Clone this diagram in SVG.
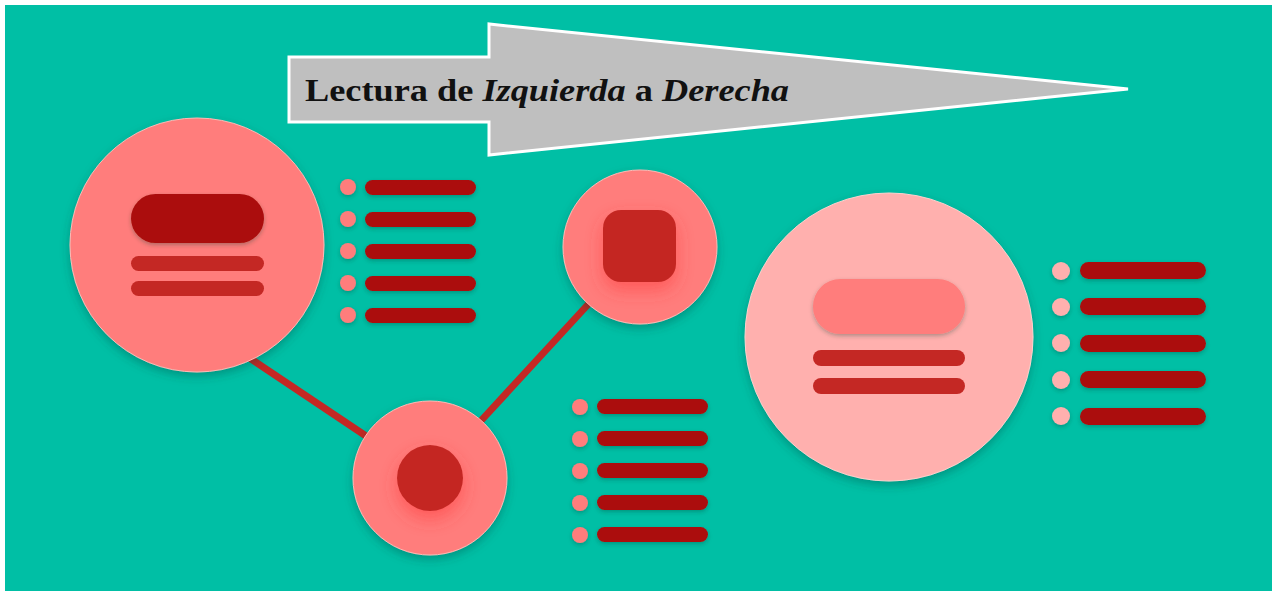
<svg xmlns="http://www.w3.org/2000/svg" width="1272" height="591" viewBox="0 0 1272 591">
<defs>
<filter id="sh" x="-30%" y="-30%" width="160%" height="160%">
<feDropShadow dx="0" dy="4" stdDeviation="5" flood-color="#00403a" flood-opacity="0.35"/>
</filter>
<filter id="sh2" x="-30%" y="-30%" width="160%" height="160%">
<feDropShadow dx="0" dy="2" stdDeviation="2" flood-color="#003a33" flood-opacity="0.3"/>
</filter>
<filter id="glow" x="-50%" y="-50%" width="200%" height="200%">
<feDropShadow dx="0" dy="8" stdDeviation="9" flood-color="#ff3b3b" flood-opacity="0.55"/>
</filter>
</defs>
<style>
.bg{fill:#00bfa5}
.node{fill:#ff7d7b;stroke:#ffb8b4;stroke-width:1}
.nodeL{fill:#ffb0ae;stroke:#ffd0cc;stroke-width:1}
.dark{fill:#ab110d}
.mid{fill:#c42824}
.dot{fill:#ff7d7b}
.dotL{fill:#ffb0ae}
.bar{fill:#ab110d}
.conn{stroke:#c42824;stroke-width:7;fill:none}
.arrow{fill:#bfbfbf;stroke:#ffffff;stroke-width:3}
.lbl{font-family:"Liberation Serif","Times New Roman",serif;font-size:32px;font-weight:bold;fill:#111111}
</style>
<rect x="0" y="0" width="1272" height="591" fill="#ffffff"/>
<rect class="bg" x="5" y="5" width="1267" height="586"/>

<g id="connectors">
<line class="conn" x1="245" y1="355" x2="372" y2="440"/>
<line class="conn" x1="478" y1="424" x2="594" y2="298"/>
</g>

<g id="title-arrow">
<polygon class="arrow" points="289,57 489,57 489,24 1128,89 489,155 489,122 289,122"/>
<text class="lbl" x="305" y="101" textLength="484" lengthAdjust="spacingAndGlyphs">Lectura de <tspan font-style="italic">Izquierda</tspan> a <tspan font-style="italic">Derecha</tspan></text>
</g>

<g id="node1">
<circle class="node" cx="197" cy="245" r="127" filter="url(#sh)"/>
<rect class="dark" x="131" y="194" width="133" height="49" rx="24.5" filter="url(#sh2)"/>
<rect class="mid" x="131" y="256" width="133" height="15" rx="7.5"/>
<rect class="mid" x="131" y="281" width="133" height="15" rx="7.5"/>
</g>

<g id="list1" filter="url(#sh2)">
<circle class="dot" cx="348" cy="187" r="8"/>
<circle class="dot" cx="348" cy="219" r="8"/>
<circle class="dot" cx="348" cy="251" r="8"/>
<circle class="dot" cx="348" cy="283" r="8"/>
<circle class="dot" cx="348" cy="315" r="8"/>
<rect class="bar" x="365" y="180" width="111" height="15" rx="7.5"/>
<rect class="bar" x="365" y="212" width="111" height="15" rx="7.5"/>
<rect class="bar" x="365" y="244" width="111" height="15" rx="7.5"/>
<rect class="bar" x="365" y="276" width="111" height="15" rx="7.5"/>
<rect class="bar" x="365" y="308" width="111" height="15" rx="7.5"/>
</g>

<g id="node2">
<circle class="node" cx="640" cy="247" r="77" filter="url(#sh)"/>
<rect class="mid" x="603" y="210" width="73" height="72" rx="18" filter="url(#glow)"/>
</g>

<g id="node3">
<circle class="node" cx="430" cy="478" r="77" filter="url(#sh)"/>
<circle class="mid" cx="430" cy="478" r="33" filter="url(#glow)"/>
</g>

<g id="list2" filter="url(#sh2)">
<circle class="dot" cx="580" cy="407" r="8"/>
<circle class="dot" cx="580" cy="439" r="8"/>
<circle class="dot" cx="580" cy="471" r="8"/>
<circle class="dot" cx="580" cy="503" r="8"/>
<circle class="dot" cx="580" cy="535" r="8"/>
<rect class="bar" x="597" y="399" width="111" height="15" rx="7.5"/>
<rect class="bar" x="597" y="431" width="111" height="15" rx="7.5"/>
<rect class="bar" x="597" y="463" width="111" height="15" rx="7.5"/>
<rect class="bar" x="597" y="495" width="111" height="15" rx="7.5"/>
<rect class="bar" x="597" y="527" width="111" height="15" rx="7.5"/>
</g>

<g id="node4">
<circle class="nodeL" cx="889" cy="337" r="144" filter="url(#sh)"/>
<rect class="dot" x="813" y="279" width="152" height="55" rx="27.5" filter="url(#sh2)"/>
<rect class="mid" x="813" y="350" width="152" height="16" rx="8"/>
<rect class="mid" x="813" y="378" width="152" height="16" rx="8"/>
</g>

<g id="list3" filter="url(#sh2)">
<circle class="dotL" cx="1061" cy="271" r="9"/>
<circle class="dotL" cx="1061" cy="307" r="9"/>
<circle class="dotL" cx="1061" cy="343" r="9"/>
<circle class="dotL" cx="1061" cy="380" r="9"/>
<circle class="dotL" cx="1061" cy="416" r="9"/>
<rect class="bar" x="1080" y="262" width="126" height="17" rx="8.5"/>
<rect class="bar" x="1080" y="298" width="126" height="17" rx="8.5"/>
<rect class="bar" x="1080" y="335" width="126" height="17" rx="8.5"/>
<rect class="bar" x="1080" y="371" width="126" height="17" rx="8.5"/>
<rect class="bar" x="1080" y="408" width="126" height="17" rx="8.5"/>
</g>
</svg>
